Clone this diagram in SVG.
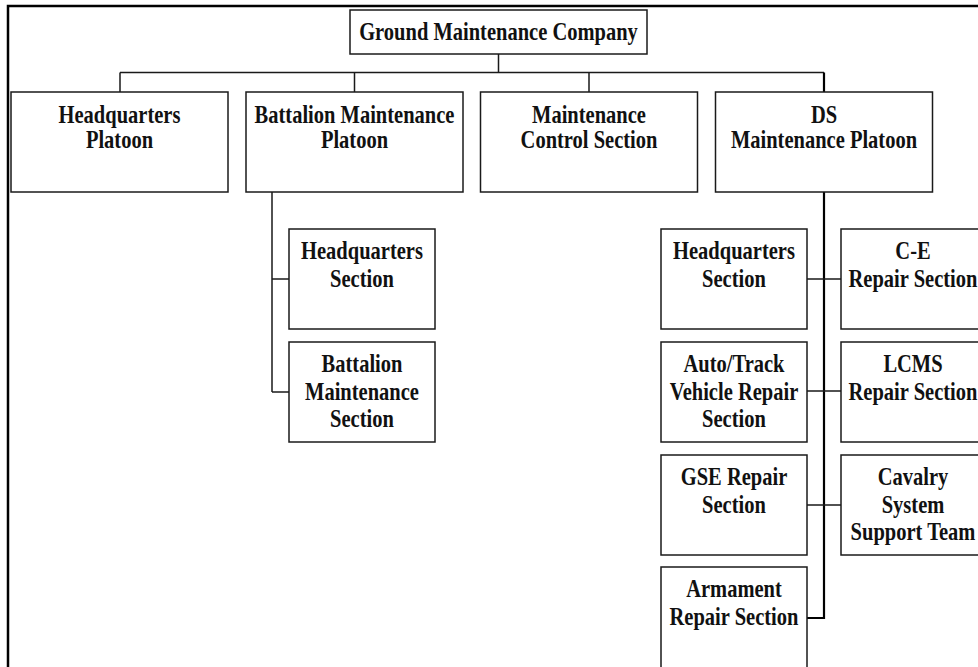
<svg xmlns="http://www.w3.org/2000/svg" width="978" height="667" viewBox="0 0 978 667">
  <style>
    .box { fill: #ffffff; stroke: #1a1a1a; stroke-width: 1.5; }
    .frame { fill: none; stroke: #000000; stroke-width: 2.5; }
    .link { fill: none; stroke: #1a1a1a; stroke-width: 1.5; }
    .spine { fill: none; stroke: #000000; stroke-width: 2.2; }
    /* tall, narrow bold serif lettering: 25px glyphs squeezed to 82% width */
    text { font-family: "Liberation Serif", "Times New Roman", serif; font-weight: bold; font-size: 25px; fill: #111111; text-anchor: middle; }
  </style>
  <rect x="0" y="0" width="978" height="667" fill="#ffffff"/>
  <!-- outer frame (runs off the right and bottom edges) -->
  <rect class="frame" x="8" y="6" width="990" height="680"/>

  <!-- connectors -->
  <g id="connectors">
    <path class="link" d="M498.5 54 V72.5 M120 72.5 H824 M120 72.5 V92 M354.5 72.5 V92 M589 72.5 V92"/>
    <path class="link" d="M272 192 V392 M272 279 H289 M272 392 H289"/>
    <path class="spine" d="M824 72.5 V92 M824 192 V618 H807"/>
    <path class="link" d="M807 279 H841 M807 391 H841 M807 505 H841"/>
  </g>

  <!-- top -->
  <g id="ground-maintenance-company">
    <rect class="box" x="350" y="10" width="297" height="44"/>
    <text transform="translate(498.5 40) scale(0.82 1)">Ground Maintenance Company</text>
  </g>

  <!-- second level -->
  <g id="headquarters-platoon">
    <rect class="box" x="11" y="92" width="217" height="100"/>
    <text transform="translate(119.5 122.5) scale(0.82 1)">Headquarters</text>
    <text transform="translate(119.5 148) scale(0.82 1)">Platoon</text>
  </g>
  <g id="battalion-maintenance-platoon">
    <rect class="box" x="246" y="92" width="217" height="100"/>
    <text transform="translate(354.5 122.5) scale(0.82 1)">Battalion Maintenance</text>
    <text transform="translate(354.5 148) scale(0.82 1)">Platoon</text>
  </g>
  <g id="maintenance-control-section">
    <rect class="box" x="480.5" y="92" width="217" height="100"/>
    <text transform="translate(589 122.5) scale(0.82 1)">Maintenance</text>
    <text transform="translate(589 148) scale(0.82 1)">Control Section</text>
  </g>
  <g id="ds-maintenance-platoon">
    <rect class="box" x="715.5" y="92" width="217" height="100"/>
    <text transform="translate(824 122.5) scale(0.82 1)">DS</text>
    <text transform="translate(824 148) scale(0.82 1)">Maintenance Platoon</text>
  </g>

  <!-- battalion maintenance platoon sections -->
  <g id="bmp-headquarters-section">
    <rect class="box" x="289" y="229" width="146" height="100"/>
    <text transform="translate(362 259) scale(0.82 1)">Headquarters</text>
    <text transform="translate(362 286.5) scale(0.82 1)">Section</text>
  </g>
  <g id="battalion-maintenance-section">
    <rect class="box" x="289" y="342" width="146" height="100"/>
    <text transform="translate(362 372) scale(0.82 1)">Battalion</text>
    <text transform="translate(362 399.5) scale(0.82 1)">Maintenance</text>
    <text transform="translate(362 427) scale(0.82 1)">Section</text>
  </g>

  <!-- DS maintenance platoon, left column -->
  <g id="ds-headquarters-section">
    <rect class="box" x="661" y="229" width="146" height="100"/>
    <text transform="translate(734 259) scale(0.82 1)">Headquarters</text>
    <text transform="translate(734 286.5) scale(0.82 1)">Section</text>
  </g>
  <g id="auto-track-vehicle-repair-section">
    <rect class="box" x="661" y="342" width="146" height="100"/>
    <text transform="translate(734 372) scale(0.82 1)">Auto/Track</text>
    <text transform="translate(734 399.5) scale(0.82 1)">Vehicle Repair</text>
    <text transform="translate(734 427) scale(0.82 1)">Section</text>
  </g>
  <g id="gse-repair-section">
    <rect class="box" x="661" y="455" width="146" height="100"/>
    <text transform="translate(734 485) scale(0.82 1)">GSE Repair</text>
    <text transform="translate(734 512.5) scale(0.82 1)">Section</text>
  </g>
  <g id="armament-repair-section">
    <rect class="box" x="661" y="567" width="146" height="110"/>
    <text transform="translate(734 597) scale(0.82 1)">Armament</text>
    <text transform="translate(734 625) scale(0.82 1)">Repair Section</text>
  </g>

  <!-- DS maintenance platoon, right column -->
  <g id="c-e-repair-section">
    <rect class="box" x="841" y="229" width="146" height="100"/>
    <text transform="translate(913 259) scale(0.82 1)">C-E</text>
    <text transform="translate(913 286.5) scale(0.82 1)">Repair Section</text>
  </g>
  <g id="lcms-repair-section">
    <rect class="box" x="841" y="342" width="146" height="100"/>
    <text transform="translate(913 372) scale(0.82 1)">LCMS</text>
    <text transform="translate(913 399.5) scale(0.82 1)">Repair Section</text>
  </g>
  <g id="cavalry-system-support-team">
    <rect class="box" x="841" y="455" width="146" height="100"/>
    <text transform="translate(913 485) scale(0.82 1)">Cavalry</text>
    <text transform="translate(913 512.5) scale(0.82 1)">System</text>
    <text transform="translate(913 540) scale(0.82 1)">Support Team</text>
  </g>
</svg>
